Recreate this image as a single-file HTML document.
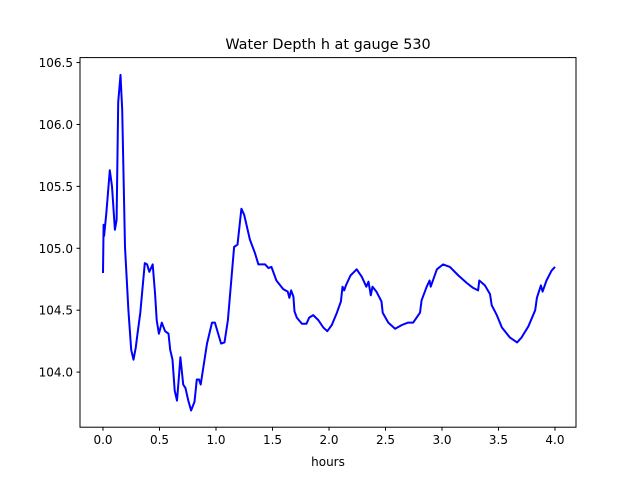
<!DOCTYPE html>
<html><head><meta charset="utf-8"><style>
body{margin:0;background:#fff;font-family:"Liberation Sans","DejaVu Sans",sans-serif}
svg text{font-family:"DejaVu Sans","Liberation Sans",sans-serif;font-size:12px;fill:#000}
</style></head><body>
<svg id="chart" width="640" height="480" xmlns="http://www.w3.org/2000/svg">
<rect width="640" height="480" fill="#fff"/>
<text x="328" y="49" text-anchor="middle" style="font-size:14.4px">Water Depth h at gauge 530</text>
<g id="ticks"></g>
<path id="line" fill="none" stroke="#0000ff" stroke-width="2" stroke-linejoin="round"/>
<rect x="80" y="57.6" width="496" height="369.6" fill="none" stroke="#000" stroke-width="1"/>
<text x="328" y="466" text-anchor="middle">hours</text>
</svg>
<script>
const hours=[0,0.005,0.01,0.03,0.06,0.08,0.105,0.12,0.135,0.155,0.17,0.195,0.225,0.25,0.27,0.29,0.305,0.33,0.37,0.39,0.41,0.44,0.46,0.475,0.495,0.52,0.55,0.58,0.595,0.615,0.635,0.655,0.67,0.685,0.71,0.73,0.755,0.78,0.81,0.83,0.85,0.865,0.92,0.965,0.99,1.045,1.075,1.105,1.16,1.19,1.225,1.25,1.3,1.345,1.375,1.435,1.465,1.49,1.535,1.595,1.635,1.65,1.665,1.685,1.695,1.715,1.76,1.8,1.825,1.86,1.905,1.95,1.985,2.025,2.07,2.105,2.12,2.135,2.15,2.19,2.245,2.29,2.33,2.35,2.37,2.385,2.42,2.465,2.475,2.525,2.585,2.645,2.7,2.745,2.805,2.82,2.865,2.89,2.9,2.955,3.01,3.07,3.145,3.22,3.275,3.32,3.33,3.38,3.425,3.44,3.485,3.53,3.6,3.665,3.705,3.765,3.825,3.84,3.875,3.89,3.925,3.97,4.0];
const depth=[104.8,105.19,105.1,105.29,105.63,105.5,105.15,105.23,106.18,106.4,106.12,105.01,104.5,104.18,104.1,104.2,104.31,104.48,104.88,104.87,104.81,104.87,104.64,104.42,104.31,104.4,104.33,104.31,104.18,104.1,103.85,103.77,103.94,104.12,103.9,103.87,103.77,103.69,103.76,103.94,103.94,103.9,104.23,104.4,104.4,104.23,104.24,104.42,105.01,105.03,105.32,105.27,105.07,104.96,104.87,104.87,104.84,104.85,104.74,104.67,104.65,104.6,104.66,104.61,104.49,104.44,104.39,104.39,104.44,104.46,104.42,104.36,104.33,104.38,104.48,104.57,104.69,104.66,104.7,104.78,104.83,104.77,104.69,104.73,104.62,104.69,104.65,104.57,104.48,104.4,104.35,104.38,104.4,104.4,104.48,104.58,104.69,104.74,104.69,104.83,104.87,104.85,104.78,104.72,104.68,104.66,104.74,104.7,104.63,104.54,104.46,104.36,104.28,104.24,104.28,104.37,104.5,104.6,104.7,104.65,104.74,104.82,104.85];
const xTicks=[0,0.5,1,1.5,2,2.5,3,3.5,4];
const yTicks=[104,104.5,105,105.5,106,106.5];
const xMin=-0.2035,xMax=4.186,yMin=103.555,yMax=106.54;
const L=80,R=576,T=57.6,B=427.2;
const sx=v=>L+(v-xMin)/(xMax-xMin)*(R-L);
const sy=v=>B-(v-yMin)/(yMax-yMin)*(B-T);
const NS="http://www.w3.org/2000/svg";
const g=document.getElementById('ticks');
xTicks.forEach(t=>{
  const x=sx(t);
  const ln=document.createElementNS(NS,'line');
  ln.setAttribute('x1',x);ln.setAttribute('x2',x);ln.setAttribute('y1',B);ln.setAttribute('y2',B+3.5);ln.setAttribute('stroke','#000');
  
  
  g.appendChild(ln);
  const tx=document.createElementNS(NS,'text');
  tx.setAttribute('x',x);tx.setAttribute('y',B+17);tx.setAttribute('text-anchor','middle');
  tx.textContent=t.toFixed(1);
  
  
  g.appendChild(tx);
});
yTicks.forEach(t=>{
  const y=sy(t);
  const ln=document.createElementNS(NS,'line');
  ln.setAttribute('x1',L-3.5);ln.setAttribute('x2',L);ln.setAttribute('y1',y);ln.setAttribute('y2',y);ln.setAttribute('stroke','#000');
  
  
  g.appendChild(ln);
  const tx=document.createElementNS(NS,'text');
  tx.setAttribute('x',L-7);tx.setAttribute('y',y+4.5);tx.setAttribute('text-anchor','end');
  tx.textContent=t.toFixed(1);
  
  
  g.appendChild(tx);
});
document.getElementById('line').setAttribute('d',hours.map((h,i)=>(i?'L':'M')+sx(h).toFixed(1)+' '+sy(depth[i]).toFixed(1)).join(' '));
</script>
</body></html>
